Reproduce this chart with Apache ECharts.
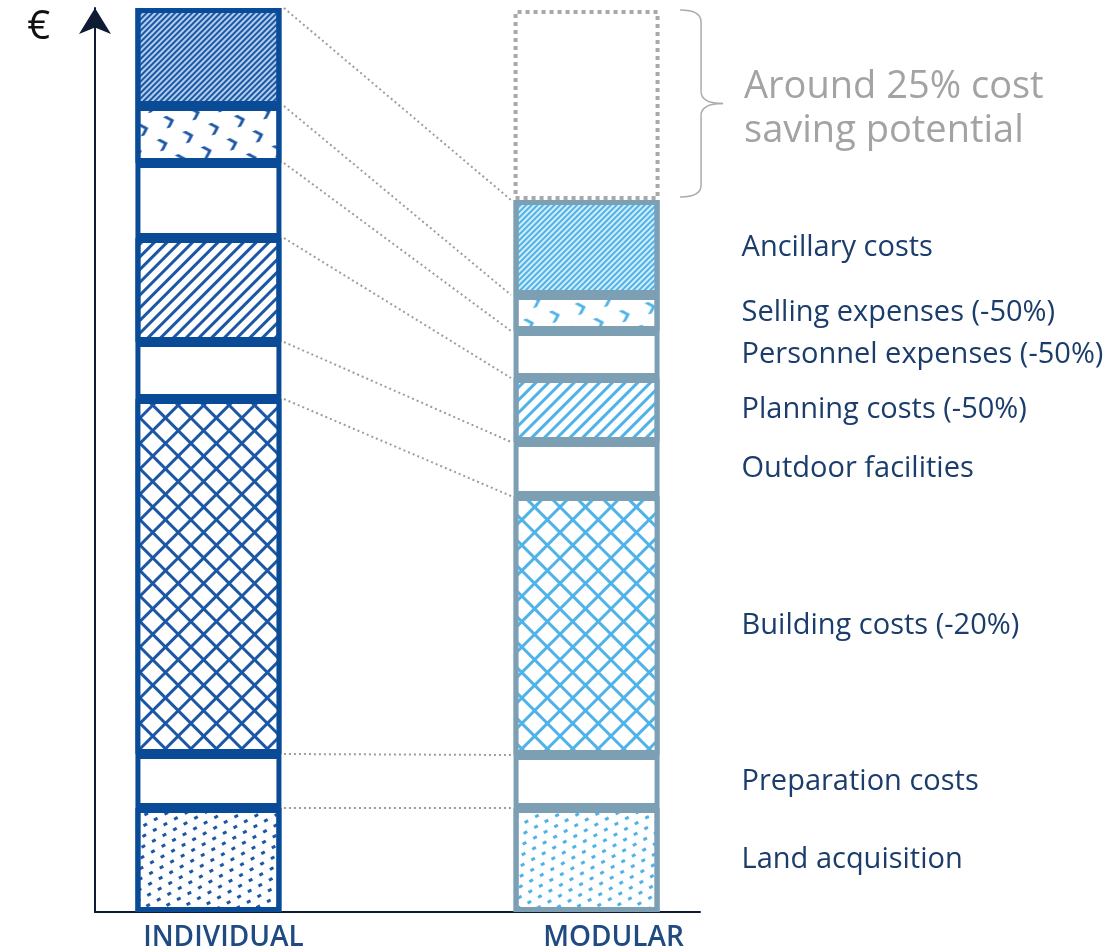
<!DOCTYPE html>
<html>
<head>
<meta charset="utf-8">
<title>Individual vs modular construction costs</title>
<script src="https://cdn.jsdelivr.net/npm/echarts@6/dist/echarts.min.js"></script>
<style>
  html, body { margin: 0; padding: 0; background: #fff; }
  #chart { width: 1120px; height: 950px; }
</style>
</head>
<body>
<div id="chart"></div>
<script>
// slots along the x axis, only two of them carry a bar
const categories = ['', 'INDIVIDUAL', '', '', '', '', 'MODULAR', ''];
const IND = 1, MOD = 6;

// cost blocks, bottom to top
const segments = [
  'Land acquisition',
  'Preparation costs',
  'Building costs (-20%)',
  'Outdoor facilities',
  'Planning costs (-50%)',
  'Personnel expenses (-50%)',
  'Selling expenses (-50%)',
  'Ancillary costs'
];
const individual = [104, 54, 355, 57, 104, 75, 57, 98];
const modular = [104, 53, 259, 54, 64, 47, 36, 95];
const saving = 190;
const savingText = 'Around 25% cost\nsaving potential';

// fill pattern for each block
const patterns = ['dots', 'none', 'lattice', 'none', 'hatch', 'none', 'chevron', 'stripes'];

const FONT = '"Open Sans", sans-serif';
const BAR_W = 146;
const BORDER = 5;
const EDGE = BAR_W / 2 + BORDER / 2;

const looks = {
  ind: { ink: '#1b57a5', light: '#b3cdec', border: '#0a4b97' },
  mod: { ink: '#4fb3e8', light: '#d2edf9', border: '#7c9fb3' }
};

function decalFor(kind, look) {
  switch (kind) {
    case 'dots':
      return { symbol: 'rect', symbolSize: 1, color: look.ink,
        dashArrayX: [[4, 8], [0, 6, 4, 2]], dashArrayY: [2.5, 5.5], rotation: -0.5 };
    case 'lattice':
      return { symbol: 'rect', symbolSize: 1, color: '#ffffff', backgroundColor: look.ink,
        dashArrayX: [[15, 3]], dashArrayY: [15, 3], rotation: Math.PI / 4 };
    case 'hatch':
      return { symbol: 'rect', symbolSize: 1, color: look.ink,
        dashArrayX: [[1, 0]], dashArrayY: [3, 6], rotation: -Math.PI / 4 };
    case 'chevron':
      return { symbol: 'path://M0,0L4,0L10,6L4,12L0,12L6,6Z', symbolSize: 1, symbolKeepAspect: true,
        color: look.ink, dashArrayX: [[10, 17], [0, 13, 10, 4]], dashArrayY: [12, 8], rotation: -0.3 };
    case 'stripes':
      return { symbol: 'rect', symbolSize: 1, color: look.ink,
        dashArrayX: [[1, 0]], dashArrayY: [2, 2], rotation: -Math.PI / 4 };
  }
  return null;
}

function cell(value, look, kind, withLabel) {
  const item = {
    value: value,
    itemStyle: {
      color: kind === 'stripes' ? look.light : '#ffffff',
      borderColor: look.border,
      borderWidth: BORDER
    }
  };
  const d = decalFor(kind, look);
  if (d) item.itemStyle.decal = d;
  if (withLabel) {
    item.label = {
      show: true, position: 'right', distance: 82, formatter: '{a}',
      color: '#1b3d6b', fontSize: 29, fontFamily: FONT
    };
  }
  return item;
}

// running tops of each block, for the dotted guide lines
const cumInd = [], cumMod = [];
individual.reduce((s, v, i) => (cumInd[i] = s + v), 0);
modular.reduce((s, v, i) => (cumMod[i] = s + v), 0);
const modTotal = cumMod[cumMod.length - 1];

const series = segments.map((name, i) => ({
  name: name,
  type: 'bar',
  stack: 'cost',
  barWidth: BAR_W,
  z: 3,
  label: { show: false },
  data: categories.map((c, k) => {
    if (k === IND) return cell(individual[i], looks.ind, patterns[i], false);
    if (k === MOD) return cell(modular[i], looks.mod, patterns[i], true);
    return null;
  })
}));

series.push({
  name: 'saving',
  type: 'bar',
  stack: 'cost',
  barWidth: BAR_W,
  z: 1,
  data: categories.map((c, k) => k === MOD ? {
    value: saving,
    itemStyle: { color: 'rgba(0,0,0,0)', borderColor: '#a9a9a9', borderWidth: 4, borderType: 'dotted' }
  } : null)
});

// dotted guides from each individual block top to the matching modular block top
series.push({
  type: 'custom',
  silent: true,
  z: 1,
  encode: { x: 0, y: 1 },
  data: segments.map((s, i) => [IND, cumInd[i], cumMod[i]]),
  renderItem: (params, api) => {
    const a = api.coord([IND, api.value(1)]);
    const b = api.coord([MOD, api.value(2)]);
    return {
      type: 'line',
      shape: { x1: a[0] + EDGE, y1: a[1], x2: b[0] - EDGE, y2: b[1] },
      style: { stroke: '#9d9d9d', lineWidth: 2, lineDash: [2, 3] }
    };
  }
});

// curly brace + note next to the savings box
series.push({
  type: 'custom',
  silent: true,
  encode: { x: 0, y: 1 },
  data: [[MOD, modTotal, modTotal + saving]],
  renderItem: (params, api) => {
    const lo = api.coord([MOD, api.value(1)]);
    const hi = api.coord([MOD, api.value(2)]);
    const x0 = lo[0] + EDGE + 18, xm = x0 + 21, xt = xm + 22;
    const top = hi[1], bot = lo[1] - 3, mid = (top + bot) / 2, r = 12;
    const st = { stroke: '#ababab', lineWidth: 1.5, fill: null };
    return {
      type: 'group',
      children: [
        { type: 'bezierCurve', shape: { x1: x0, y1: top, cpx1: xm, cpy1: top, x2: xm, y2: top + r }, style: st },
        { type: 'line', shape: { x1: xm, y1: top + r, x2: xm, y2: mid - r }, style: st },
        { type: 'bezierCurve', shape: { x1: xm, y1: mid - r, cpx1: xm, cpy1: mid, x2: xt, y2: mid }, style: st },
        { type: 'bezierCurve', shape: { x1: xt, y1: mid, cpx1: xm, cpy1: mid, x2: xm, y2: mid + r }, style: st },
        { type: 'line', shape: { x1: xm, y1: mid + r, x2: xm, y2: bot - r }, style: st },
        { type: 'bezierCurve', shape: { x1: xm, y1: bot - r, cpx1: xm, cpy1: bot, x2: x0, y2: bot }, style: st },
        {
          type: 'text',
          style: {
            text: savingText, x: xt + 21, y: mid + 6,
            verticalAlign: 'middle', align: 'left',
            fill: '#a3a3a3', fontSize: 38, lineHeight: 44, fontFamily: FONT
          }
        }
      ]
    };
  }
});

const labelShift = { INDIVIDUAL: 30, MODULAR: 54 };

const chart = echarts.init(document.getElementById('chart'));
chart.setOption({
  animation: false,
  backgroundColor: '#ffffff',
  grid: { left: 95, right: 420, top: 8, bottom: 38, outerBoundsMode: 'none' },
  xAxis: {
    type: 'category',
    data: categories.map(c => ({ value: c, textStyle: { padding: [0, 0, 0, labelShift[c] || 0] } })),
    axisLine: { lineStyle: { color: '#0d1b33', width: 2 } },
    axisTick: { show: false },
    axisLabel: { interval: 0, margin: 12, fontSize: 28, fontWeight: 600, color: '#1f4a82', fontFamily: FONT }
  },
  yAxis: {
    type: 'value',
    min: 0,
    max: 904,
    name: '€',
    nameLocation: 'end',
    nameGap: -20,
    nameTextStyle: { align: 'right', verticalAlign: 'middle', padding: [0, 45, 0, 0], fontSize: 40, color: '#111', fontFamily: FONT },
    splitLine: { show: false },
    axisTick: { show: false },
    axisLabel: { show: false },
    axisLine: {
      show: true,
      lineStyle: { color: '#0d1b33', width: 2 },
      symbol: ['none', 'arrow'],
      symbolSize: [24, 26],
      symbolOffset: [0, 0]
    }
  },
  series: series
});
</script>
</body>
</html>
